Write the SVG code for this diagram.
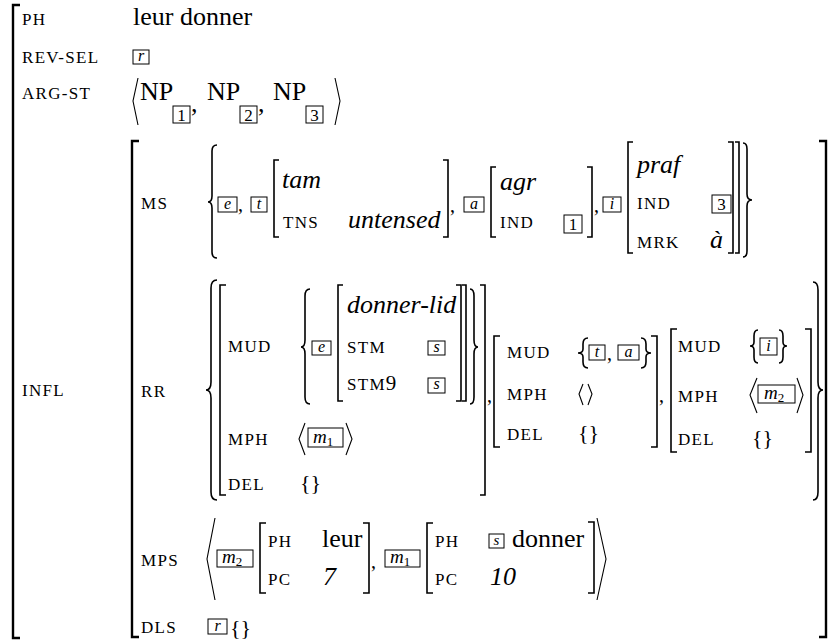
<svg xmlns="http://www.w3.org/2000/svg" width="829" height="644" viewBox="0 0 829 644" font-family="'Liberation Serif', 'DejaVu Serif', serif">
<style>
text, tspan{font-family:'Liberation Serif', 'DejaVu Serif', serif;fill:#000}
.l{font-size:17px;letter-spacing:1.3px}
.v{font-size:26px}
.it{font-style:italic}
.tg{font-size:16px;font-style:italic;text-anchor:middle}
.nm{font-size:17px;text-anchor:middle}
.br{fill:none;stroke:#000;stroke-width:1.6}
.ob{fill:none;stroke:#000;stroke-width:2.4}
.ang{fill:none;stroke:#000;stroke-width:1.1}
.bx{fill:none;stroke:#000;stroke-width:1}
</style>
<rect width="829" height="644" fill="#fff"/>

<!-- outer AVM -->
<g id="outer">
<path class="ob" d="M20 5 H13 V638 H20"/>
<text class="l" x="22" y="25">PH</text>
<text class="v" x="133" y="25">leur donner</text>
<text class="l" x="22" y="63">REV-SEL</text>
<rect class="bx" x="133" y="50" width="16" height="14"/><text class="tg" x="141" y="61">r</text>
<text class="l" x="22" y="99">ARG-ST</text>
<path class="ang" d="M138 78 L133 101 L138 125"/>
<text class="v" x="140" y="100">NP</text>
<rect class="bx" x="173" y="106" width="17" height="17"/><text class="nm" x="181.5" y="121">1</text>
<text class="v" x="191" y="112">,</text>
<text class="v" x="207" y="100">NP</text>
<rect class="bx" x="240" y="106" width="17" height="17"/><text class="nm" x="248.5" y="121">2</text>
<text class="v" x="258" y="112">,</text>
<text class="v" x="273" y="100">NP</text>
<rect class="bx" x="306" y="106" width="17" height="17"/><text class="nm" x="314.5" y="121">3</text>
<path class="ang" d="M335 78 L340 101 L335 125"/>
<text class="l" x="22" y="396">INFL</text>
</g>

<!-- INFL AVM -->
<g id="infl">
<path class="ob" d="M139 141 H132 V637 H139"/>
<path class="ob" d="M819 141 H826 V637 H819"/>
</g>

<!-- MS row -->
<g id="ms">
<text class="l" x="141" y="209">MS</text>
<path class="br" d="M217 145 Q212 145 212 151 V196 Q212 202 208 202 Q212 202 212 208 V252 Q212 258 217 258"/>
<rect class="bx" x="218" y="197" width="19" height="15"/><text class="tg" x="227.5" y="209">e</text>
<text class="v" x="238" y="211" style="font-size:20px">,</text>
<rect class="bx" x="251" y="197" width="16" height="15"/><text class="tg" x="259" y="209">t</text>
<path class="br" d="M279 160 H274 V237 H279"/>
<text class="v it" x="282" y="188">tam</text>
<text class="l" x="283" y="228">TNS</text>
<text class="v it" x="348" y="228">untensed</text>
<path class="br" d="M443 160 H448 V237 H443"/>
<text class="v" x="450" y="212" style="font-size:20px">,</text>
<rect class="bx" x="464" y="197" width="20" height="15"/><text class="tg" x="474" y="209">a</text>
<path class="br" d="M496 167 H491 V237 H496"/>
<text class="v it" x="500" y="190">agr</text>
<text class="l" x="500" y="228">IND</text>
<rect class="bx" x="564" y="215" width="18" height="18"/><text class="nm" x="573" y="230">1</text>
<path class="br" d="M587 167 H592 V237 H587"/>
<text class="v" x="594" y="212" style="font-size:20px">,</text>
<rect class="bx" x="603" y="197" width="18" height="15"/><text class="tg" x="612" y="209">i</text>
<path class="br" d="M633 142 H628 V253 H633"/>
<text class="v it" x="637" y="173">praf</text>
<text class="l" x="637" y="209">IND</text>
<rect class="bx" x="712" y="195" width="19" height="18"/><text class="nm" x="721.5" y="210">3</text>
<text class="l" x="637" y="248">MRK</text>
<text class="v it" x="710" y="248">à</text>
<path class="br" d="M728 142 H733 V253 H728"/>
<path class="br" d="M735 142 H739 V253 H735"/>
<path class="br" d="M743 143 Q747 143 747 149 V194 Q747 200 752 200 Q747 200 747 206 V251 Q747 257 743 257"/>
</g>

<!-- RR row -->
<g id="rr">
<text class="l" x="141" y="397">RR</text>
<path class="br" d="M217 280 Q211 280 211 288 V382 Q211 390 206 390 Q211 390 211 398 V492 Q211 500 217 500"/>
<path class="br" d="M226 285 H220 V495 H226"/>
<text class="l" x="228" y="352">MUD</text>
<path class="br" d="M310 289 Q305 289 305 296 V340 Q305 347 301 347 Q305 347 305 354 V397 Q305 404 310 404"/>
<rect class="bx" x="312" y="341" width="19" height="14"/><text class="tg" x="321.5" y="352">e</text>
<path class="br" d="M343 285 H338 V401 H343"/>
<text class="v it" x="347" y="313">donner-lid</text>
<text class="l" x="347" y="353">STM</text>
<rect class="bx" x="428" y="341" width="17" height="14"/><text class="tg" x="436.5" y="352">s</text>
<text class="l" x="347" y="390">STM<tspan style="font-size:21px;letter-spacing:0">9</tspan></text>
<rect class="bx" x="428" y="378" width="17" height="15"/><text class="tg" x="436.5" y="389">s</text>
<path class="br" d="M456 285 H461 V401 H456"/>
<path class="br" d="M462 285 H466 V401 H462"/>
<path class="br" d="M470 289 Q474 289 474 296 V340 Q474 347 478 347 Q474 347 474 354 V397 Q474 404 470 404"/>
<path class="br" d="M480 285 H485 V495 H480"/>
<text class="l" x="228" y="445">MPH</text>
<path class="ang" d="M305 423 L299 439 L305 455"/>
<rect class="bx" x="308" y="428" width="35" height="19"/><text class="it" x="313" y="443" style="font-size:19px">m<tspan style="font-size:13px;font-style:normal" dy="3">1</tspan></text>
<path class="ang" d="M346 423 L352 439 L346 455"/>
<text class="l" x="228" y="490">DEL</text>
<text class="v" x="300" y="490" style="font-size:22px">{}</text>
<text class="v" x="487" y="402" style="font-size:20px">,</text>

<path class="br" d="M500 336 H494 V447 H500"/>
<text class="l" x="507" y="358">MUD</text>
<path class="br" d="M588 338 Q583 338 583 344 V349 Q583 353 578 353 Q583 353 583 357 V362 Q583 368 588 368"/>
<rect class="bx" x="589" y="345" width="16" height="15"/><text class="tg" x="597" y="357">t</text>
<text class="v" x="607" y="360" style="font-size:20px">,</text>
<rect class="bx" x="618" y="345" width="21" height="15"/><text class="tg" x="628.5" y="357">a</text>
<path class="br" d="M641 338 Q646 338 646 344 V349 Q646 353 651 353 Q646 353 646 357 V362 Q646 368 641 368"/>
<text class="l" x="507" y="400">MPH</text>
<path class="ang" d="M583 384 L579 394 L583 405"/>
<path class="ang" d="M588 384 L592 394 L588 405"/>
<text class="l" x="507" y="440">DEL</text>
<text class="v" x="578" y="440" style="font-size:22px">{}</text>
<path class="br" d="M651 336 H657 V447 H651"/>
<text class="v" x="659" y="402" style="font-size:20px">,</text>

<path class="br" d="M677 329 H671 V452 H677"/>
<text class="l" x="678" y="352">MUD</text>
<path class="br" d="M758 330 Q754 330 754 336 V342 Q754 346 750 346 Q754 346 754 350 V357 Q754 363 758 363"/>
<rect class="bx" x="760" y="338" width="17" height="17"/><text class="tg" x="768.5" y="351">i</text>
<path class="br" d="M779 330 Q783 330 783 336 V342 Q783 346 787 346 Q783 346 783 350 V357 Q783 363 779 363"/>
<text class="l" x="678" y="402">MPH</text>
<path class="ang" d="M757 378 L750 395 L757 413"/>
<rect class="bx" x="758" y="385" width="37" height="18"/><text class="it" x="764" y="399" style="font-size:19px">m<tspan style="font-size:13px;font-style:normal" dy="3">2</tspan></text>
<path class="ang" d="M797 378 L803 395 L797 413"/>
<text class="l" x="678" y="445">DEL</text>
<text class="v" x="752" y="445" style="font-size:22px">{}</text>
<path class="br" d="M805 329 H811 V452 H805"/>
<path class="br" d="M813 282 Q818 282 818 290 V382 Q818 390 823 390 Q818 390 818 398 V492 Q818 500 813 500"/>
</g>

<!-- MPS row -->
<g id="mps">
<text class="l" x="141" y="566">MPS</text>
<path class="ang" d="M215 518 L207 559 L215 600"/>
<rect class="bx" x="217" y="550" width="36" height="17"/><text class="it" x="222" y="563" style="font-size:19px">m<tspan style="font-size:13px;font-style:normal" dy="3">2</tspan></text>
<path class="br" d="M266 523 H260 V593 H266"/>
<text class="l" x="268" y="547">PH</text>
<text class="v" x="322" y="547">leur</text>
<text class="l" x="268" y="585">PC</text>
<text class="v it" x="323" y="585">7</text>
<path class="br" d="M363 523 H369 V593 H363"/>
<text class="v" x="371" y="568" style="font-size:20px">,</text>
<rect class="bx" x="385" y="550" width="35" height="17"/><text class="it" x="390" y="563" style="font-size:19px">m<tspan style="font-size:13px;font-style:normal" dy="3">1</tspan></text>
<path class="br" d="M433 523 H427 V593 H433"/>
<text class="l" x="435" y="547">PH</text>
<rect class="bx" x="489" y="534" width="15" height="14"/><text class="tg" x="496.5" y="545" style="font-size:15px">s</text>
<text class="v" x="512" y="547">donner</text>
<text class="l" x="435" y="585">PC</text>
<text class="v it" x="490" y="585">10</text>
<path class="br" d="M588 522 H594 V593 H588"/>
<path class="ang" d="M597 518 L606 559 L597 600"/>
</g>

<!-- DLS row -->
<g id="dls">
<text class="l" x="141" y="633">DLS</text>
<rect class="bx" x="208" y="619" width="19" height="15"/><text class="tg" x="217.5" y="631">r</text>
<text class="v" x="230" y="635" style="font-size:22px">{}</text>
</g>
</svg>
